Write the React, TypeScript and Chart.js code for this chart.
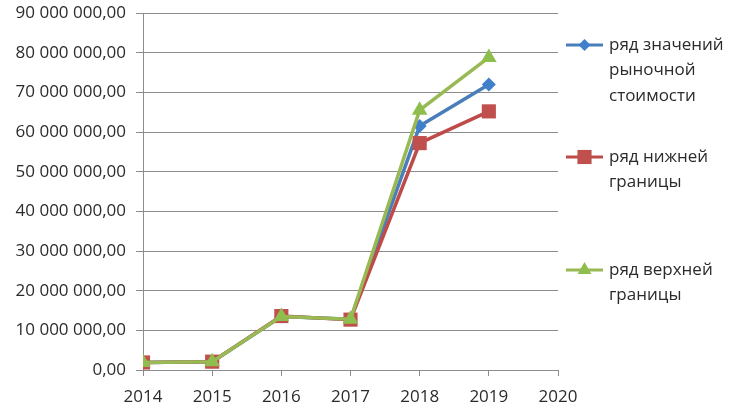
import React, { useEffect, useRef } from "react";
import { Chart, registerables } from "chart.js";

Chart.register(...registerables);

// ---- data ----
const years = [2014, 2015, 2016, 2017, 2018, 2019];
const marketValues = [1900000, 2100000, 13500000, 12800000, 61500000, 72000000];
const lowerBound = [1900000, 2100000, 13600000, 12700000, 57200000, 65200000];
const upperBound = [1900000, 2100000, 13500000, 12800000, 65500000, 78800000];
const xMin = 2014;
const xMax = 2020;
const yMin = 0;
const yMax = 90000000;
const yStep = 10000000;
const legendMarket = ["ряд значений", "рыночной", "стоимости"];
const legendLower = ["ряд нижней", "границы"];
const legendUpper = ["ряд верхней", "границы"];

const FONT = "'Open Sans', 'Noto Sans', sans-serif";
const TEXT = "#2b2b2b";
const GRID = "#8c8c8c";
const BLUE = "#4A7EBB";
const BLUE_FILL = "#3F7FCC";
const RED = "#BE4B48";
const RED_FILL = "#C0504D";
const GREEN = "#98B954";
const GREEN_FILL = "#8FBE4E";

function fmt(v: number): string {
  const s = Math.round(v).toString();
  const grouped = s.replace(/\B(?=(\d{3})+(?!\d))/g, " ");
  return grouped + ",00";
}

function toPoints(vals: number[]) {
  return vals.map((v, i) => ({ x: years[i], y: v }));
}

function drawMarker(ctx: CanvasRenderingContext2D, style: string, x: number, y: number, r: number) {
  ctx.beginPath();
  if (style === "rectRot") {
    ctx.moveTo(x, y - r);
    ctx.lineTo(x + r, y);
    ctx.lineTo(x, y + r);
    ctx.lineTo(x - r, y);
    ctx.closePath();
  } else if (style === "rect") {
    const s = r * Math.SQRT1_2;
    ctx.rect(x - s, y - s, 2 * s, 2 * s);
  } else {
    const h = Math.sqrt(3) / 2 * r;
    ctx.moveTo(x, y - r);
    ctx.lineTo(x + h, y + r / 2);
    ctx.lineTo(x - h, y + r / 2);
    ctx.closePath();
  }
  ctx.fill();
}

const legendPlugin = {
  id: "sideLegend",
  afterDraw(chart: any) {
    const ctx: CanvasRenderingContext2D = chart.ctx;
    const entries = [
      { lines: legendMarket, color: BLUE, fill: BLUE_FILL, style: "rectRot", r: 6, y: 45 },
      { lines: legendLower, color: RED, fill: RED_FILL, style: "rect", r: 10, y: 157 },
      { lines: legendUpper, color: GREEN, fill: GREEN_FILL, style: "triangle", r: 8, y: 270 },
    ];
    ctx.save();
    ctx.font = `17px ${FONT}`;
    ctx.textBaseline = "middle";
    ctx.textAlign = "left";
    for (const e of entries) {
      ctx.strokeStyle = e.color;
      ctx.lineWidth = 3;
      ctx.beginPath();
      ctx.moveTo(566, e.y);
      ctx.lineTo(603, e.y);
      ctx.stroke();
      ctx.fillStyle = e.fill;
      drawMarker(ctx, e.style, 584.5, e.y, e.r);
      ctx.fillStyle = TEXT;
      e.lines.forEach((t, i) => ctx.fillText(t, 609, e.y + i * 25.5));
    }
    ctx.restore();
  },
};

export default function App() {
  const ref = useRef<HTMLCanvasElement | null>(null);

  useEffect(() => {
    if (!ref.current) return;
    const chart = new Chart(ref.current, {
      type: "line",
      data: {
        datasets: [
          {
            label: legendUpper.join(" "),
            data: toPoints(upperBound),
            borderColor: GREEN,
            backgroundColor: GREEN_FILL,
            borderWidth: 3.5,
            pointStyle: "triangle",
            pointRadius: 9,
            pointBorderWidth: 0,
            pointBackgroundColor: GREEN_FILL,
            tension: 0,
          },
          {
            label: legendLower.join(" "),
            data: toPoints(lowerBound),
            borderColor: RED,
            backgroundColor: RED_FILL,
            borderWidth: 3.5,
            pointStyle: "rect",
            pointRadius: 10,
            pointBorderWidth: 0,
            pointBackgroundColor: RED_FILL,
            tension: 0,
          },
          {
            label: legendMarket.join(" "),
            data: toPoints(marketValues),
            borderColor: BLUE,
            backgroundColor: BLUE_FILL,
            borderWidth: 3.5,
            pointStyle: "rectRot",
            pointRadius: 7,
            pointBorderWidth: 0,
            pointBackgroundColor: BLUE_FILL,
            tension: 0,
          },
        ],
      },
      options: {
        animation: false,
        responsive: true,
        maintainAspectRatio: false,
        layout: { padding: { left: 0, right: 175, top: 13, bottom: 0 } },
        plugins: {
          legend: { display: false },
          tooltip: { enabled: false },
        },
        scales: {
          x: {
            type: "linear",
            min: xMin,
            max: xMax,
            ticks: {
              stepSize: 1,
              color: TEXT,
              font: { family: FONT, size: 17 },
              padding: 11,
              callback: (v: any) => String(v),
            },
            grid: {
              drawOnChartArea: false,
              drawTicks: true,
              tickLength: 6,
              color: GRID,
            },
            border: { color: GRID, width: 1 },
            afterFit: (s: any) => {
              s.height = 37;
              s.paddingLeft = 0;
              s.paddingRight = 0;
            },
          },
          y: {
            min: yMin,
            max: yMax,
            ticks: {
              stepSize: yStep,
              color: TEXT,
              font: { family: FONT, size: 17 },
              padding: 10,
              callback: (v: any) => fmt(Number(v)),
            },
            grid: {
              color: GRID,
              lineWidth: 1,
              tickLength: 7,
              drawTicks: true,
            },
            border: { color: GRID, width: 1 },
            afterFit: (s: any) => {
              s.width = 143;
              s.paddingTop = 0;
              s.paddingBottom = 0;
            },
          },
        },
      },
      plugins: [legendPlugin],
    });
    return () => chart.destroy();
  }, []);

  return (
    <div style={{ position: "fixed", left: 0, top: 0, width: 733, height: 407, background: "#fff" }}>
      <canvas ref={ref} />
    </div>
  );
}
